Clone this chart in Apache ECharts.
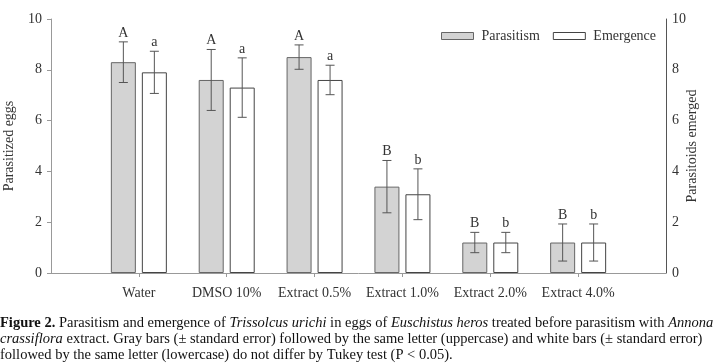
<!DOCTYPE html>
<html>
  <head>
    <meta charset="utf-8" />
    <title>Parasitism and emergence</title>
  </head>
  <body style="margin:0;">
    <script src="https://cdn.jsdelivr.net/npm/echarts@6/dist/echarts.min.js"></script>

    <div id="container" style="width: 713px;height: 363px;"></div>

    <script type="text/javascript">
    // treatments (x axis)
    var categories = ['Water', 'DMSO 10%', 'Extract 0.5%', 'Extract 1.0%', 'Extract 2.0%', 'Extract 4.0%'];
    // gray bars: parasitized eggs
    var parasitism = [8.3, 7.6, 8.5, 3.4, 1.2, 1.2];
    var parasitismErr = [0.8, 1.2, 0.48, 1.03, 0.4, 0.73];
    var parasitismLetters = ['A', 'A', 'A', 'B', 'B', 'B'];
    // white bars: parasitoids emerged
    var emergence = [7.9, 7.3, 7.6, 3.1, 1.2, 1.2];
    var emergenceErr = [0.83, 1.17, 0.58, 1.0, 0.4, 0.73];
    var emergenceLetters = ['a', 'a', 'a', 'b', 'b', 'b'];
    var yTicks = [0, 2, 4, 6, 8, 10];

    var serif = '"Liberation Serif", "DejaVu Serif", serif';
    var textColor = '#333';

    // pad the axis with an empty slot each side, like the original figure
    var axisCats = [''].concat(categories).concat(['']);
    function pad(arr) { return ['-'].concat(arr).concat(['-']); }

    function errData(vals, errs) {
      return vals.map(function (v, i) { return [i + 1, v, errs[i]]; });
    }

    function errRenderer(offset, letters) {
      return function (params, api) {
        var x = api.value(0), v = api.value(1), e = api.value(2);
        var top = api.coord([x, v + e]);
        var bot = api.coord([x, v - e]);
        var cx = top[0] + offset;
        var cap = 4.5;
        var st = { stroke: '#555', lineWidth: 1 };
        return {
          type: 'group',
          children: [
            { type: 'line', shape: { x1: cx, y1: top[1], x2: cx, y2: bot[1] }, style: st },
            { type: 'line', shape: { x1: cx - cap, y1: top[1], x2: cx + cap, y2: top[1] }, style: st },
            { type: 'line', shape: { x1: cx - cap, y1: bot[1], x2: cx + cap, y2: bot[1] }, style: st },
            { type: 'text', style: {
                text: letters[params.dataIndex], x: cx, y: top[1] - 2,
                align: 'center', verticalAlign: 'bottom',
                font: '14px ' + serif, fill: textColor } }
          ]
        };
      };
    }

    var myChart = echarts.init(document.getElementById('container'));
    var capSize = 14.5;
    var option = {
      animation: false,
      title: {
        left: -5,
        top: 310,
        text: '{b|Figure 2.} Parasitism and emergence of {i|Trissolcus urichi} in eggs of {i|Euschistus heros} treated before parasitism with {i|Annona}\n' +
              '{i|crassiflora} extract. Gray bars (± standard error) followed by the same letter (uppercase) and white bars (± standard error)\n' +
              'followed by the same letter (lowercase) do not differ by Tukey test (P < 0.05).',
        textStyle: {
          fontFamily: serif, fontSize: capSize, fontWeight: 'normal', color: '#111', lineHeight: 16,
          rich: {
            b: { fontFamily: serif, fontSize: capSize, fontWeight: 'bold', color: '#111', lineHeight: 16 },
            i: { fontFamily: serif, fontSize: capSize, fontStyle: 'italic', color: '#111', lineHeight: 16 }
          }
        }
      },
      legend: {
        left: 436,
        top: 24,
        itemWidth: 32,
        itemHeight: 7,
        itemGap: 13,
        icon: 'rect',
        itemStyle: { borderWidth: 1 },
        textStyle: { fontFamily: serif, fontSize: 14, color: textColor, padding: [0, 0, 0, 3] },
        data: ['Parasitism', 'Emergence']
      },
      grid: { left: 51, right: 47, top: 19, bottom: 90, outerBoundsMode: 'none' },
      xAxis: {
        type: 'category',
        data: axisCats,
        boundaryGap: false,
        axisLine: { lineStyle: { color: '#999' } },
        axisTick: {
          length: 4,
          interval: function (i, v) { return v !== ''; },
          lineStyle: { color: '#999' }
        },
        axisLabel: {
          interval: 0, margin: 13,
          fontFamily: serif, fontSize: 14, color: textColor
        }
      },
      yAxis: [
        {
          type: 'value', min: 0, max: 10, interval: 2,
          name: 'Parasitized eggs', nameLocation: 'middle', nameGap: 35,
          nameMoveOverlap: false,
          nameTextStyle: { fontFamily: serif, fontSize: 14, color: textColor },
          axisLine: { show: true, lineStyle: { color: '#999' } },
          axisTick: { show: true, length: 4, lineStyle: { color: '#999' } },
          splitLine: { show: false },
          axisLabel: {
            margin: 9, fontFamily: serif, fontSize: 14, color: textColor,
            customValues: yTicks
          }
        },
        {
          type: 'value', min: 0, max: 10, interval: 2, position: 'right',
          name: 'Parasitoids emerged', nameLocation: 'middle', nameGap: 19,
          nameRotate: 90, nameMoveOverlap: false,
          nameTextStyle: { fontFamily: serif, fontSize: 14, color: textColor },
          axisLine: { show: true, lineStyle: { color: '#555' } },
          axisTick: { show: false },
          splitLine: { show: false },
          axisLabel: { margin: 6, fontFamily: serif, fontSize: 14, color: textColor }
        }
      ],
      series: [
        {
          name: 'Parasitism',
          type: 'bar',
          data: pad(parasitism),
          barWidth: 25,
          barGap: '24%',
          itemStyle: { color: '#d3d3d3', borderColor: '#666', borderWidth: 1 }
        },
        {
          name: 'Emergence',
          type: 'bar',
          data: pad(emergence),
          barWidth: 25,
          itemStyle: { color: '#fff', borderColor: '#444', borderWidth: 1 }
        },
        {
          type: 'custom',
          data: errData(parasitism, parasitismErr),
          renderItem: errRenderer(-15.5, parasitismLetters),
          z: 5
        },
        {
          type: 'custom',
          data: errData(emergence, emergenceErr),
          renderItem: errRenderer(15.5, emergenceLetters),
          z: 5
        }
      ]
    };
    myChart.setOption(option);
    window.addEventListener('resize', myChart.resize);
    </script>
  </body>
</html>
